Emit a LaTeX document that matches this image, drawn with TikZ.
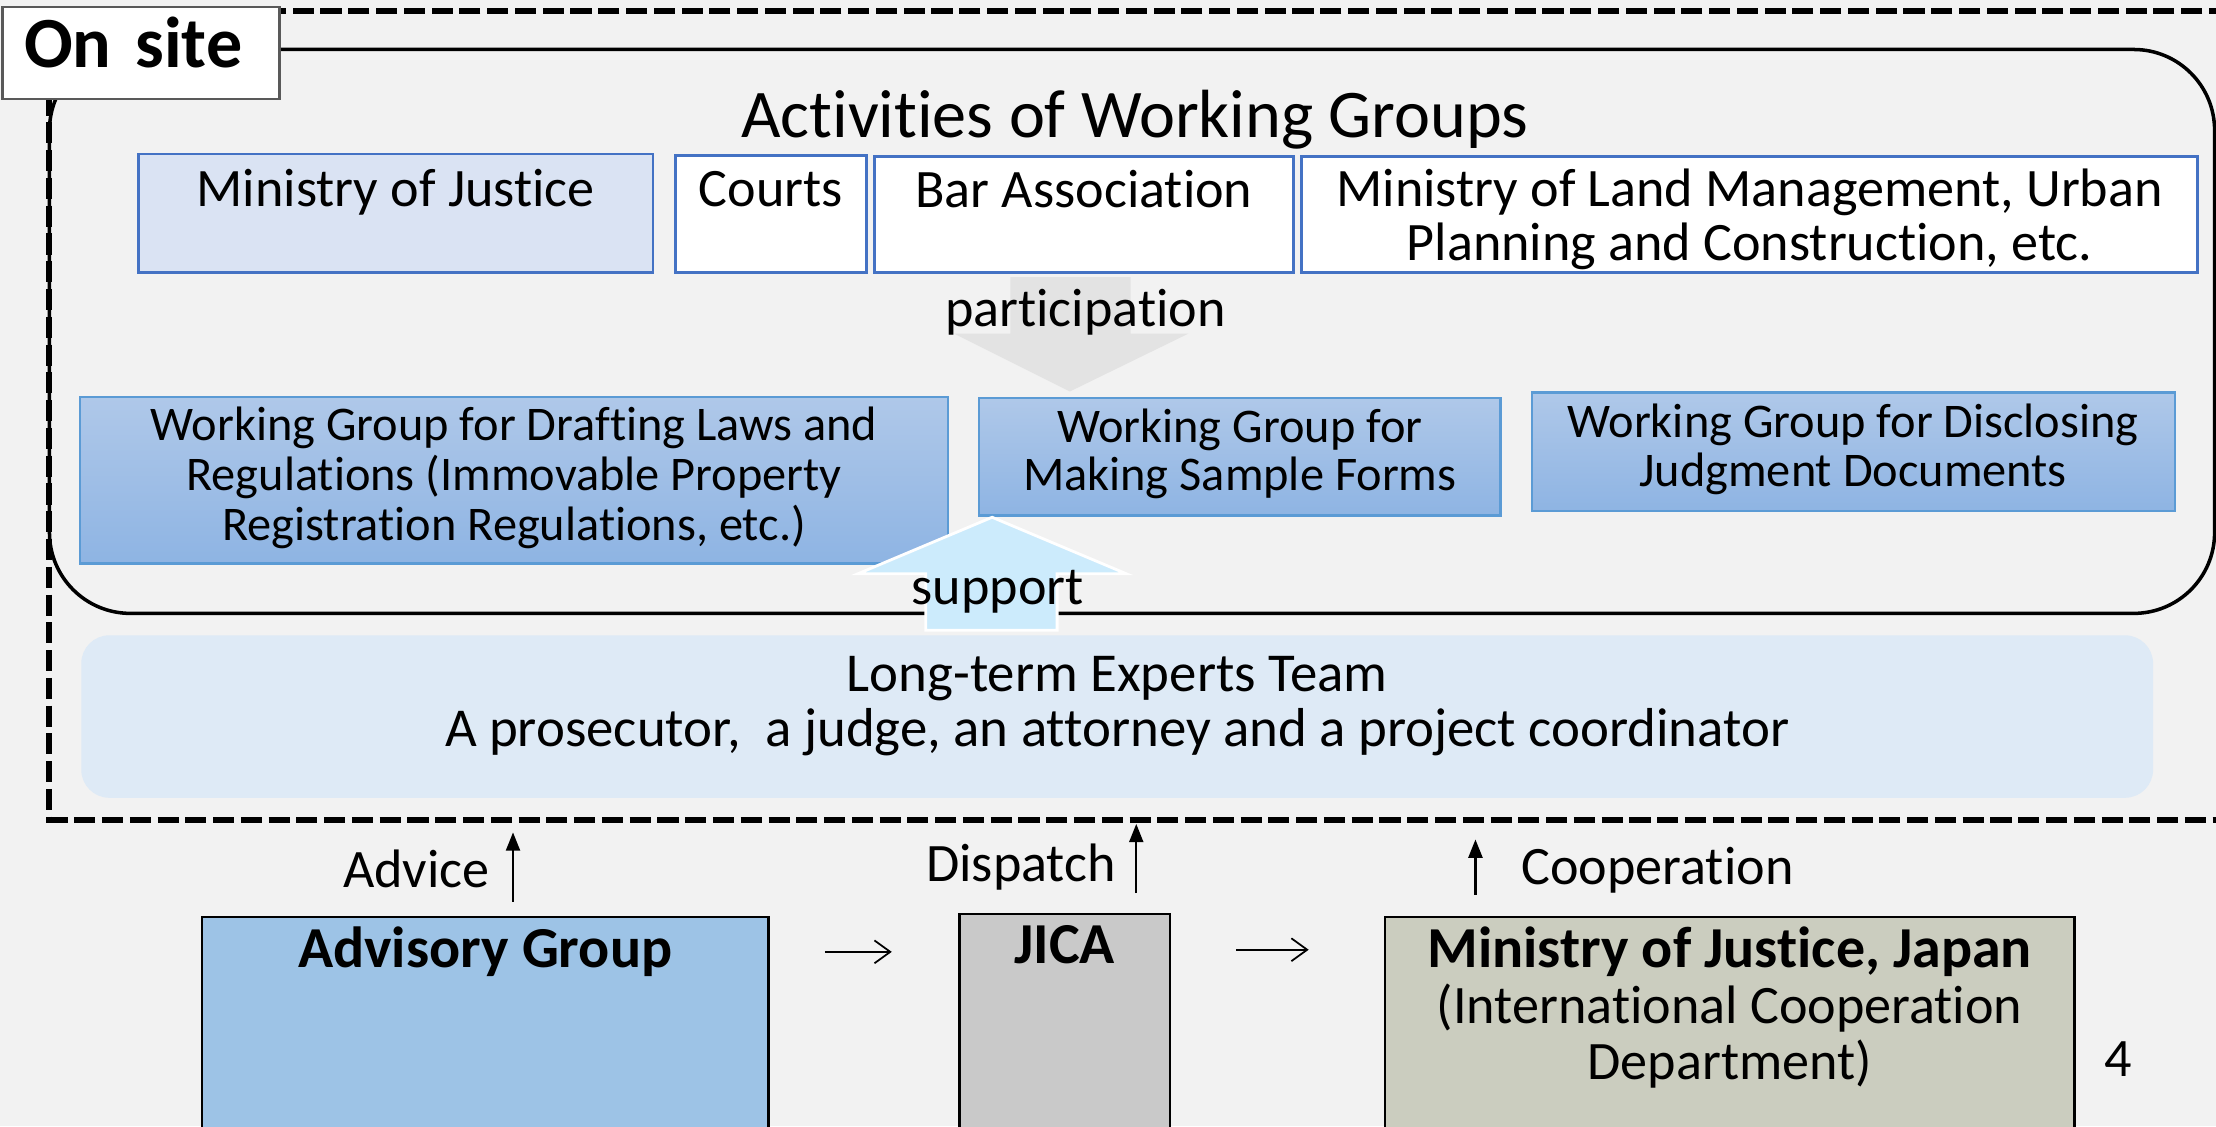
\documentclass[tikz,border=0pt]{standalone}
\usepackage{fontspec}
\setmainfont{Carlito}[Ligatures=NoCommon]
\usepackage{tikz}
\usetikzlibrary{positioning, calc, arrows.meta}
\newlength{\unitpx}
\setlength{\unitpx}{0.014133cm}
\newcommand{\filas}[1]{\begin{tabular}[t]{@{}c@{}}#1\end{tabular}}
\newcommand{\boldname}[1]{{\fontsize{16.5}{15.4}\selectfont\bfseries #1}}
\definecolor{fondo}{HTML}{F2F2F2}
\definecolor{bordeazul}{HTML}{4472C4}
\definecolor{mojfill}{HTML}{DAE3F3}
\definecolor{wgtop}{HTML}{AFC8E9}
\definecolor{wgbottom}{HTML}{8EB4E3}
\definecolor{wgborder}{HTML}{5B9BD5}
\definecolor{partfill}{HTML}{E3E3E3}
\definecolor{supportfill}{HTML}{CCEBFC}
\definecolor{expertfill}{HTML}{DEEAF6}
\definecolor{advisoryfill}{HTML}{9DC3E6}
\definecolor{jicafill}{HTML}{C9C9C9}
\definecolor{mojjfill}{HTML}{CBCDBF}
\tikzstyle{plaintext} = [inner sep=0pt, anchor=base, font=\fontsize{15.4}{15.4}\selectfont]
\tikzstyle{entity} = [draw=bordeazul, line width=0.8pt, fill=white, inner sep=0pt, anchor=north west, font=\fontsize{15.4}{15.4}\selectfont]
\tikzstyle{workgroup} = [draw=wgborder, line width=0.6pt, top color=wgtop, bottom color=wgbottom, inner sep=0pt, anchor=north west, font=\fontsize{13.75}{13.8}\selectfont]
\tikzstyle{expertteam} = [fill=expertfill, rounded corners=8pt, inner sep=0pt, anchor=north west, font=\fontsize{15.6}{15.6}\selectfont]
\tikzstyle{donor} = [draw=black, line width=0.7pt, inner sep=0pt, anchor=north west, font=\fontsize{15.4}{15.4}\selectfont]
\tikzstyle{sitetitle} = [draw=black!65, fill=white, line width=0.8pt, anchor=north west, inner ysep=0pt, inner xsep=15\unitpx, text width=166\unitpx, align=left, font=\fontsize{20.5}{20.5}\selectfont\bfseries]
\tikzstyle{activityframe} = [draw=black, line width=1pt, rounded corners=23pt]
\tikzstyle{siteframe} = [draw=black, line width=1.7pt, dash pattern=on 6pt off 1.9pt]
\tikzstyle{uparrow} = [line width=0.6pt, -{Triangle[length=5.2pt, width=4pt]}]
\tikzstyle{sidearrow} = [line width=0.5pt, -{Straight Barb[length=4.5pt, width=6.5pt]}]

\begin{document}
\begin{tikzpicture}[x=\unitpx, y=-\unitpx]
	\useasboundingbox (0,0) rectangle (1568,797);
	\fill[fondo] (0,0) rectangle (1568,797);
	\draw[activityframe] (35,35) rectangle (1567,434);
	\draw[siteframe] (35,8) rectangle (1610,580);
	\node[sitetitle, text height=43\unitpx, text depth=22\unitpx] (onsite) at (1,4) {On site};
	\node[plaintext, font=\fontsize{19.4}{19.4}\selectfont] (title) at (803,97) {Activities of Working Groups};
	% participants
	\node[entity, fill=mojfill, minimum width=364\unitpx, text height=37\unitpx, text depth=47\unitpx] (moj) at (97,108) {Ministry of Justice};
	\node[entity, minimum width=135\unitpx, text height=36\unitpx, text depth=47\unitpx] (courts) at (477,109) {Courts};
	\node[entity, minimum width=296\unitpx, text height=36\unitpx, text depth=46\unitpx] (bar) at (618,110) {Bar Association};
	\node[entity, minimum width=634\unitpx, text height=35\unitpx, text depth=47\unitpx] (land) at (920,110) {\filas{Ministry of Land Management, Urban\\ Planning and Construction, etc.}};
	\fill[partfill] (715,196) -- (800,196) -- (800,236) -- (841,236) -- (757,277) -- (675,236) -- (715,236) -- cycle;
	\node[plaintext] (participation) at (768,231) {participation};
	% working groups
	\node[workgroup, minimum width=614\unitpx, text height=31\unitpx, text depth=87\unitpx] (wgdraft) at (56,280) {\filas{Working Group for Drafting Laws and\\ Regulations (Immovable Property\\ Registration Regulations, etc.)}};
	\node[workgroup, minimum width=369\unitpx, text height=31\unitpx, text depth=52\unitpx] (wgforms) at (692,281) {\filas{Working Group for\\ Making Sample Forms}};
	\node[workgroup, minimum width=455\unitpx, text height=32\unitpx, text depth=52\unitpx] (wgjudgment) at (1083,277) {\filas{Working Group for Disclosing\\ Judgment Documents}};
	\filldraw[fill=supportfill, draw=white, line width=0.8pt] (655,446) -- (655,406) -- (607,406) -- (702,366) -- (797,406) -- (748,406) -- (748,446) -- cycle;
	\node[plaintext] (support) at (706,428) {support};
	\node[expertteam, minimum width=1466\unitpx, text height=40\unitpx, text depth=75\unitpx] (experts) at (57,449) {\filas{Long-term Experts Team\\ A prosecutor,\ \ a judge, an attorney and a project coordinator}};
	% Japan side
	\node[donor, fill=advisoryfill, minimum width=401\unitpx, text height=36\unitpx, text depth=160\unitpx] (advisory) at (142,648) {\boldname{Advisory Group}};
	\node[donor, fill=jicafill, minimum width=149\unitpx, text height=35\unitpx, text depth=162\unitpx] (jica) at (678,646) {\boldname{JICA}};
	\node[donor, fill=mojjfill, minimum width=488\unitpx, text height=36\unitpx, text depth=160\unitpx] (mojjapan) at (979,648) {\filas{\boldname{Ministry of Justice, Japan}\\ (International Cooperation\\ Department)}};
	\coordinate (advicetip) at (363,589);
	\coordinate (dispatchtip) at (804,583);
	\coordinate (cooptip) at (1044,594);
	\draw[uparrow, shorten <=10\unitpx] (advisory.north -| advicetip) -- (advicetip);
	\draw[uparrow, shorten <=14\unitpx] (jica.north -| dispatchtip) -- (dispatchtip);
	\draw[uparrow, shorten <=15\unitpx] (mojjapan.north -| cooptip) -- (cooptip);
	\node[plaintext, anchor=base east] (advice) at (347,628) {Advice};
	\node[plaintext, anchor=base east] (dispatch) at (790,624) {Dispatch};
	\node[plaintext, anchor=base west] (cooperation) at (1076,626) {Cooperation};
	\draw[sidearrow, shorten <=39\unitpx, shorten >=47\unitpx] ([yshift=-25.5\unitpx]advisory.north east) -- ([yshift=-27.5\unitpx]jica.north west);
	\draw[sidearrow, shorten <=46\unitpx, shorten >=53\unitpx] ([yshift=-26\unitpx]jica.north east) -- ([yshift=-24\unitpx]mojjapan.north west);
	\node[plaintext] (page) at (1499,762) {4};
\end{tikzpicture}
\end{document}
